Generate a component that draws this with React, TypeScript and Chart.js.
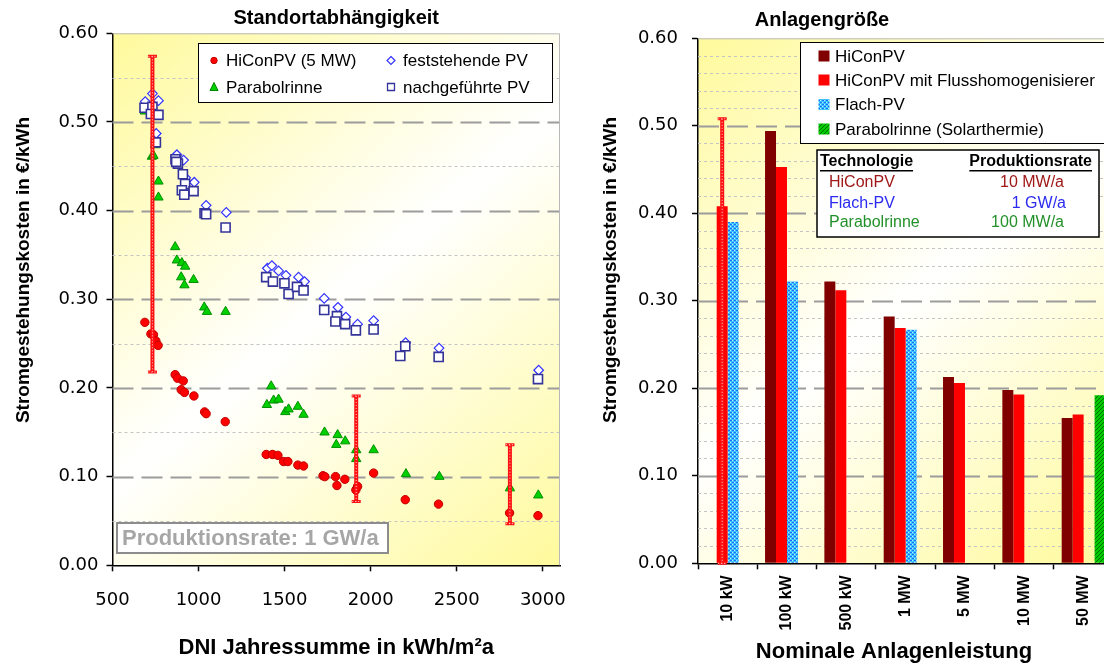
import React, { useEffect, useRef } from "react";
import { Chart, registerables } from "chart.js";
Chart.register(...registerables);

// ---------------- Left chart data (DNI in kWh/m²a, costs in €/kWh) ----------------
const hiconDni = [688, 723, 738, 752, 765, 864, 878, 911, 899, 918, 973, 1035, 1044, 1155, 1393, 1430, 1461, 1494, 1519, 1577, 1610, 1723, 1734, 1796, 1804, 1850, 1914, 1924, 2017, 2201, 2394, 2807, 2972];
const hiconCost = [0.274, 0.261, 0.26, 0.253, 0.248, 0.215, 0.211, 0.208, 0.198, 0.195, 0.191, 0.173, 0.171, 0.162, 0.125, 0.125, 0.124, 0.117, 0.117, 0.113, 0.112, 0.101, 0.1, 0.1, 0.09, 0.097, 0.085, 0.089, 0.104, 0.074, 0.069, 0.059, 0.056];

const parabolDni = [688, 748, 729, 738, 767, 767, 864, 874, 903, 922, 899, 918, 971, 1033, 1049, 1157, 1422, 1397, 1436, 1465, 1504, 1523, 1577, 1610, 1732, 1808, 1800, 1852, 1916, 1916, 2017, 2205, 2399, 2809, 2974];
const parabolCost = [0.512, 0.474, 0.461, 0.462, 0.433, 0.415, 0.359, 0.344, 0.341, 0.337, 0.325, 0.316, 0.322, 0.291, 0.286, 0.286, 0.202, 0.181, 0.186, 0.187, 0.173, 0.176, 0.179, 0.17, 0.15, 0.147, 0.136, 0.14, 0.13, 0.12, 0.13, 0.103, 0.1, 0.087, 0.079];

const fixedDni = [690, 732, 767, 754, 866, 874, 913, 925, 975, 1044, 1161, 1400, 1426, 1465, 1508, 1581, 1616, 1730, 1810, 1856, 1924, 2017, 2203, 2397, 2976];
const fixedCost = [0.523, 0.532, 0.524, 0.487, 0.461, 0.463, 0.457, 0.437, 0.432, 0.406, 0.398, 0.335, 0.338, 0.332, 0.327, 0.325, 0.32, 0.301, 0.291, 0.28, 0.272, 0.276, 0.251, 0.245, 0.22];

const trackDni = [686, 732, 723, 767, 752, 866, 880, 870, 909, 922, 903, 971, 917, 1035, 1044, 1157, 1393, 1432, 1499, 1523, 1572, 1610, 1730, 1804, 1795, 1852, 1914, 2017, 2201, 2172, 2395, 2972];
const trackCost = [0.516, 0.517, 0.509, 0.508, 0.477, 0.458, 0.453, 0.455, 0.441, 0.43, 0.423, 0.422, 0.418, 0.397, 0.396, 0.381, 0.325, 0.32, 0.318, 0.306, 0.314, 0.31, 0.288, 0.281, 0.275, 0.272, 0.265, 0.266, 0.247, 0.236, 0.235, 0.21];

const errDni = [732, 1916, 2809];
const errLow = [0.218, 0.072, 0.047];
const errHigh = [0.574, 0.191, 0.136];

const dniTicks = [500, 1000, 1500, 2000, 2500, 3000];
const costTicks = [0, 0.1, 0.2, 0.3, 0.4, 0.5, 0.6];

// ---------------- Right chart data ----------------
const sizeLabels = ["10 kW", "100 kW", "500 kW", "1 MW", "5 MW", "10 MW", "50 MW"];
const costHiCon = [null, 0.494, 0.322, 0.282, 0.213, 0.198, 0.166];
const costHiConFH = [0.408, 0.453, 0.312, 0.269, 0.206, 0.193, 0.17];
const costFlachPV = [0.39, 0.322, null, 0.267, null, null, null];
const costParabol = [null, null, null, null, null, null, 0.192];
const barErrLabel = "10 kW";
const barErrLow = 0;
const barErrHigh = 0.508;

const tableRows = [
  { name: "HiConPV", rate: "10 MW/a", color: "#A01818" },
  { name: "Flach-PV", rate: "1 GW/a", color: "#2A2AF0" },
  { name: "Parabolrinne", rate: "100 MW/a", color: "#23912A" },
];

// ---------------- styling ----------------
const TICK_FONT = { family: "DejaVu Sans", size: 18 };
const YELLOW = "#FFFA9C";
const TITLE_FONT = 'bold 20px "Liberation Sans"';
const AXIS_TITLE_FONT = 'bold 22px "Liberation Sans"';
const Y_TITLE_FONT = 'bold 19px "Liberation Sans"';

function zip(xs: number[], ys: number[]) {
  return xs.map((x, i) => ({ x, y: ys[i] }));
}

function makePattern(kind: "flach" | "parabol") {
  const c = document.createElement("canvas");
  c.width = 4;
  c.height = 4;
  const g = c.getContext("2d")!;
  if (kind === "flach") {
    g.fillStyle = "#3CC4FF";
    g.fillRect(0, 0, 4, 4);
    g.fillStyle = "#1E6BFF";
    g.fillRect(0, 0, 2, 1);
    g.fillRect(2, 2, 2, 1);
    g.fillStyle = "#B0F0FF";
    g.fillRect(2, 0, 1, 1);
    g.fillRect(0, 2, 1, 1);
  } else {
    g.fillStyle = "#00CC00";
    g.fillRect(0, 0, 4, 4);
    g.fillStyle = "#006A00";
    for (let i = 0; i < 4; i++) g.fillRect(i, 3 - i, 1, 1);
  }
  return g.createPattern(c, "repeat")!;
}

function bgPlugin() {
  return {
    id: "bgGrad",
    beforeDraw(chart: any) {
      const { ctx, chartArea: a } = chart;
      const g = ctx.createLinearGradient(a.left, a.top, a.right, a.bottom);
      g.addColorStop(0, YELLOW);
      g.addColorStop(0.5, "#FFFFFF");
      g.addColorStop(1, YELLOW);
      ctx.save();
      ctx.fillStyle = g;
      ctx.fillRect(a.left, a.top, a.right - a.left, a.bottom - a.top);
      ctx.restore();
    },
  };
}

function gridPlugin(minorStep: number) {
  return {
    id: "customGrid",
    beforeDatasetsDraw(chart: any) {
      const { ctx, chartArea: a } = chart;
      const y = chart.scales.y;
      ctx.save();
      const n = Math.round(0.6 / minorStep);
      for (let i = 1; i < n; i++) {
        const v = i * minorStep;
        const isMajor = Math.abs(v * 10 - Math.round(v * 10)) < 1e-6;
        const py = Math.round(y.getPixelForValue(v)) + 0.5;
        ctx.beginPath();
        if (isMajor) {
          ctx.strokeStyle = "#9C9C9C";
          ctx.lineWidth = 2;
          ctx.setLineDash([21, 8]);
        } else {
          ctx.strokeStyle = "#C4C4C4";
          ctx.lineWidth = 1;
          ctx.setLineDash([3, 3]);
        }
        ctx.moveTo(a.left, py);
        ctx.lineTo(a.right, py);
        ctx.stroke();
      }
      ctx.setLineDash([]);
      ctx.strokeStyle = "#B8B8B8";
      ctx.lineWidth = 1;
      ctx.beginPath();
      ctx.moveTo(a.left, a.top + 0.5);
      ctx.lineTo(a.right - 0.5, a.top + 0.5);
      ctx.lineTo(a.right - 0.5, a.bottom);
      ctx.stroke();
      ctx.restore();
    },
  };
}

function drawErrorBar(ctx: CanvasRenderingContext2D, x: number, yTop: number, yBot: number) {
  ctx.save();
  ctx.strokeStyle = "#FF1010";
  ctx.lineWidth = 4;
  ctx.beginPath();
  ctx.moveTo(x, yTop);
  ctx.lineTo(x, yBot);
  ctx.stroke();
  ctx.lineWidth = 3;
  ctx.beginPath();
  ctx.moveTo(x - 4.5, yTop);
  ctx.lineTo(x + 4.5, yTop);
  ctx.moveTo(x - 4.5, yBot);
  ctx.lineTo(x + 4.5, yBot);
  ctx.stroke();
  ctx.strokeStyle = "#FFD8D8";
  ctx.lineWidth = 1;
  ctx.setLineDash([1, 2]);
  ctx.beginPath();
  ctx.moveTo(x, yTop);
  ctx.lineTo(x, yBot);
  ctx.moveTo(x - 4, yTop);
  ctx.lineTo(x + 4, yTop);
  ctx.moveTo(x - 4, yBot);
  ctx.lineTo(x + 4, yBot);
  ctx.stroke();
  ctx.restore();
}

function drawMarker(ctx: CanvasRenderingContext2D, kind: string, x: number, y: number) {
  ctx.save();
  ctx.beginPath();
  if (kind === "circle") {
    ctx.fillStyle = "#FF0000";
    ctx.strokeStyle = "#C00000";
    ctx.arc(x, y, 3.2, 0, Math.PI * 2);
    ctx.fill();
    ctx.stroke();
  } else if (kind === "triangle") {
    ctx.fillStyle = "#00D000";
    ctx.strokeStyle = "#008800";
    ctx.moveTo(x, y - 4.5);
    ctx.lineTo(x + 4, y + 3.5);
    ctx.lineTo(x - 4, y + 3.5);
    ctx.closePath();
    ctx.fill();
    ctx.stroke();
  } else if (kind === "diamond") {
    ctx.fillStyle = "#FFFFFF";
    ctx.strokeStyle = "#3333FF";
    ctx.lineWidth = 1.2;
    ctx.moveTo(x, y - 4);
    ctx.lineTo(x + 4, y);
    ctx.lineTo(x, y + 4);
    ctx.lineTo(x - 4, y);
    ctx.closePath();
    ctx.fill();
    ctx.stroke();
  } else {
    ctx.fillStyle = "#FFFFFF";
    ctx.strokeStyle = "#333399";
    ctx.lineWidth = 1.3;
    ctx.rect(x - 3.5, y - 3.5, 7, 7);
    ctx.fill();
    ctx.stroke();
  }
  ctx.restore();
}

function drawRotatedTitle(ctx: CanvasRenderingContext2D, text: string, x: number, y: number) {
  ctx.save();
  ctx.translate(x, y);
  ctx.rotate(-Math.PI / 2);
  ctx.font = Y_TITLE_FONT;
  ctx.fillStyle = "#000";
  ctx.textAlign = "center";
  ctx.textBaseline = "middle";
  ctx.fillText(text, 0, 0);
  ctx.restore();
}

function LeftChart() {
  const ref = useRef<HTMLCanvasElement>(null);
  useEffect(() => {
    const errPlugin = {
      id: "errBars",
      afterDatasetsDraw(chart: any) {
        const { ctx, scales } = chart;
        errDni.forEach((d, i) => {
          drawErrorBar(ctx, scales.x.getPixelForValue(d), scales.y.getPixelForValue(errHigh[i]), scales.y.getPixelForValue(errLow[i]));
        });
      },
    };
    const decoPlugin = {
      id: "deco",
      afterDraw(chart: any) {
        const { ctx, chartArea: a } = chart;
        ctx.save();
        ctx.fillStyle = "#000";
        ctx.font = TITLE_FONT;
        ctx.textAlign = "center";
        ctx.textBaseline = "middle";
        ctx.fillText("Standortabhängigkeit", (a.left + a.right) / 2, 18);
        ctx.font = AXIS_TITLE_FONT;
        ctx.fillText("DNI Jahressumme in kWh/m²a", (a.left + a.right) / 2, 648);
        drawRotatedTitle(ctx, "Stromgestehungskosten in €/kWh", 24, 270);

        // legend box
        ctx.fillStyle = "#FFFFFF";
        ctx.fillRect(198.5, 43.5, 354, 59);
        ctx.strokeStyle = "#000";
        ctx.lineWidth = 1;
        ctx.strokeRect(198.5, 43.5, 354, 59);
        const ds = chart.data.datasets;
        const items = [
          { label: ds[3].label, kind: "circle", x: 214, y: 60.5 },
          { label: ds[2].label, kind: "triangle", x: 214, y: 87 },
          { label: ds[1].label, kind: "diamond", x: 391, y: 60.5 },
          { label: ds[0].label, kind: "square", x: 391, y: 87 },
        ];
        ctx.font = '17px "Liberation Sans"';
        ctx.textAlign = "left";
        ctx.textBaseline = "middle";
        items.forEach((it) => {
          drawMarker(ctx, it.kind, it.x, it.y);
          ctx.fillStyle = "#000";
          ctx.fillText(it.label, it.x + 12, it.y + 1);
        });

        // Produktionsrate box
        ctx.fillStyle = "#FFFFFF";
        ctx.fillRect(117, 523, 271, 30);
        ctx.strokeStyle = "#8C8C8C";
        ctx.lineWidth = 2;
        ctx.strokeRect(117, 523, 271, 30);
        ctx.fillStyle = "#A6A6A6";
        ctx.font = 'bold 22px "Liberation Sans"';
        ctx.fillText("Produktionsrate: 1 GW/a", 122, 539);
        ctx.restore();
      },
    };

    const chart = new Chart(ref.current!, {
      type: "scatter",
      data: {
        datasets: [
          { label: "nachgeführte PV", data: zip(trackDni, trackCost), pointStyle: "rect", pointRadius: 6.4, backgroundColor: "#FFFFFF", borderColor: "#333399", borderWidth: 1.6, order: 0 },
          { label: "feststehende PV", data: zip(fixedDni, fixedCost), pointStyle: "rectRot", pointRadius: 4.8, backgroundColor: "#FFFFFF", borderColor: "#3333FF", borderWidth: 1.2, order: 1 },
          { label: "Parabolrinne", data: zip(parabolDni, parabolCost), pointStyle: "triangle", pointRadius: 5.4, backgroundColor: "#00D000", borderColor: "#009000", borderWidth: 1, order: 2 },
          { label: "HiConPV (5 MW)", data: zip(hiconDni, hiconCost), pointStyle: "circle", pointRadius: 4.2, backgroundColor: "#FF0000", borderColor: "#C00000", borderWidth: 1, order: 3 },
        ] as any,
      },
      options: {
        animation: false,
        responsive: false,
        events: [],
        layout: { padding: { left: 0, top: 33.3, right: 30, bottom: 0 } },
        plugins: { legend: { display: false }, tooltip: { enabled: false }, title: { display: false } },
        scales: {
          x: {
            type: "linear",
            min: 500,
            max: 3100,
            afterBuildTicks: (s: any) => {
              s.ticks = dniTicks.map((v) => ({ value: v }));
            },
            afterFit: (s: any) => {
              s.height = 99.7;
            },
            ticks: { font: TICK_FONT, color: "#000", padding: 18, maxRotation: 0, callback: (v: any) => String(v) },
            grid: { drawOnChartArea: false, drawTicks: true, tickLength: 6, tickColor: "#000", tickWidth: 1.5 },
            border: { color: "#000", width: 1.5 },
          },
          y: {
            min: 0,
            max: 0.6,
            afterBuildTicks: (s: any) => {
              s.ticks = costTicks.map((v) => ({ value: v }));
            },
            afterFit: (s: any) => {
              s.width = 112.5;
            },
            ticks: { font: TICK_FONT, color: "#000", padding: 8, callback: (v: any) => Number(v).toFixed(2) },
            grid: { drawOnChartArea: false, drawTicks: true, tickLength: 6, tickColor: "#000", tickWidth: 1.5 },
            border: { color: "#000", width: 1.5 },
          },
        },
      } as any,
      plugins: [bgPlugin(), gridPlugin(0.05), errPlugin, decoPlugin],
    });
    return () => chart.destroy();
  }, []);
  return <canvas ref={ref} width={590} height={665} style={{ position: "absolute", left: 0, top: 0, width: 590, height: 665 }} />;
}

function RightChart() {
  const ref = useRef<HTMLCanvasElement>(null);
  useEffect(() => {
    const flach = makePattern("flach");
    const parab = makePattern("parabol");
    const errPlugin = {
      id: "barErr",
      afterDatasetsDraw(chart: any) {
        const idx = sizeLabels.indexOf(barErrLabel);
        const bar = chart.getDatasetMeta(1).data[idx];
        const y = chart.scales.y;
        drawErrorBar(chart.ctx, bar.x, y.getPixelForValue(barErrHigh), y.getPixelForValue(barErrLow));
      },
    };
    const decoPlugin = {
      id: "deco",
      afterDraw(chart: any) {
        const { ctx } = chart;
        ctx.save();
        ctx.fillStyle = "#000";
        ctx.font = TITLE_FONT;
        ctx.textAlign = "center";
        ctx.textBaseline = "middle";
        ctx.fillText("Anlagengröße", 232, 20);
        ctx.font = AXIS_TITLE_FONT;
        ctx.fillText("Nominale Anlagenleistung", 304, 652);
        drawRotatedTitle(ctx, "Stromgestehungskosten in €/kWh", 21, 270);

        // legend
        ctx.fillStyle = "#FFFFFF";
        ctx.fillRect(210.5, 42.5, 340, 101);
        ctx.strokeStyle = "#000";
        ctx.lineWidth = 1;
        ctx.strokeRect(210.5, 42.5, 340, 101);
        const ds = chart.data.datasets;
        const rowsY = [56, 80, 104.5, 129];
        ctx.font = '17px "Liberation Sans"';
        ctx.textAlign = "left";
        ctx.textBaseline = "middle";
        ds.forEach((d: any, i: number) => {
          ctx.fillStyle = d.backgroundColor;
          ctx.fillRect(228.5, rowsY[i] - 5.5, 11, 11);
          ctx.fillStyle = "#000";
          ctx.fillText(d.label, 245, rowsY[i] + 1);
        });

        // table box
        ctx.fillStyle = "#FFFFFF";
        ctx.fillRect(227, 150, 282, 87);
        ctx.strokeStyle = "#000";
        ctx.lineWidth = 1.5;
        ctx.strokeRect(227, 150, 282, 87);
        ctx.font = 'bold 16px "Liberation Sans"';
        ctx.fillStyle = "#000";
        ctx.textAlign = "left";
        ctx.fillText("Technologie", 230, 162);
        let w = ctx.measureText("Technologie").width;
        ctx.fillRect(230, 170, w, 1.5);
        ctx.textAlign = "right";
        ctx.fillText("Produktionsrate", 502, 162);
        w = ctx.measureText("Produktionsrate").width;
        ctx.fillRect(502 - w, 170, w, 1.5);
        ctx.font = '16px "Liberation Sans"';
        const ry = [183, 203.5, 223];
        tableRows.forEach((r, i) => {
          ctx.fillStyle = r.color;
          ctx.textAlign = "left";
          ctx.fillText(r.name, 239, ry[i]);
          ctx.textAlign = "right";
          ctx.fillText(r.rate, i === 1 ? 476 : 474, ry[i]);
        });
        ctx.restore();
      },
    };

    const chart = new Chart(ref.current!, {
      type: "bar",
      data: {
        labels: sizeLabels,
        datasets: [
          { label: "HiConPV", data: costHiCon, backgroundColor: "#800000" },
          { label: "HiConPV mit Flusshomogenisierer", data: costHiConFH, backgroundColor: "#FF0000" },
          { label: "Flach-PV", data: costFlachPV, backgroundColor: flach },
          { label: "Parabolrinne (Solarthermie)", data: costParabol, backgroundColor: parab },
        ] as any,
      },
      options: {
        animation: false,
        responsive: false,
        events: [],
        datasets: { bar: { categoryPercentage: 0.74, barPercentage: 1.0 } },
        layout: { padding: { left: 0, top: 38.3, right: 16.7, bottom: 0 } },
        plugins: { legend: { display: false }, tooltip: { enabled: false }, title: { display: false } },
        scales: {
          x: {
            type: "category",
            offset: true,
            afterFit: (s: any) => {
              s.height = 101.7;
            },
            ticks: { font: { family: "Liberation Sans", size: 16, weight: "bold" }, color: "#000", padding: 6, minRotation: 90, maxRotation: 90, autoSkip: false },
            grid: { offset: true, drawOnChartArea: false, drawTicks: true, tickLength: 6, tickColor: "#000", tickWidth: 1.5 },
            border: { color: "#000", width: 1.5 },
          },
          y: {
            min: 0,
            max: 0.6,
            afterBuildTicks: (s: any) => {
              s.ticks = costTicks.map((v) => ({ value: v }));
            },
            afterFit: (s: any) => {
              s.width = 108;
            },
            ticks: { font: TICK_FONT, color: "#000", padding: 14, callback: (v: any) => Number(v).toFixed(2) },
            grid: { drawOnChartArea: false, drawTicks: true, tickLength: 6, tickColor: "#000", tickWidth: 1.5 },
            border: { color: "#000", width: 1.5 },
          },
        },
      } as any,
      plugins: [bgPlugin(), gridPlugin(0.02), errPlugin, decoPlugin],
    });
    return () => chart.destroy();
  }, []);
  return <canvas ref={ref} width={540} height={665} style={{ position: "absolute", left: 590, top: 0, width: 540, height: 665 }} />;
}

export default function App() {
  return (
    <div style={{ position: "fixed", left: 0, top: 0, width: 1104, height: 665, overflow: "hidden", background: "#FFFFFF" }}>
      <LeftChart />
      <RightChart />
    </div>
  );
}
